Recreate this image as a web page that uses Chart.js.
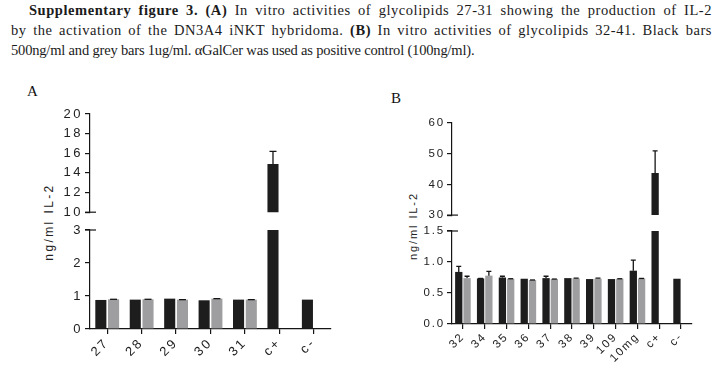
<!DOCTYPE html>
<html><head><meta charset="utf-8">
<script src="https://cdn.jsdelivr.net/npm/chart.js@4.4.1/dist/chart.umd.min.js"></script>
<style>
html,body{margin:0;padding:0;background:#fff;width:718px;height:372px;overflow:hidden;}
body{position:relative;}
.cap{position:absolute;font-family:"Liberation Serif","Times New Roman",serif;font-size:14.5px;line-height:20px;color:#1b1b1b;}
.j{text-align:justify;text-align-last:justify;letter-spacing:0.55px;}
canvas{position:absolute;}
.ytitle{position:absolute;font-family:"Liberation Sans",Arial,sans-serif;transform:translate(-50%,-50%) rotate(-90deg);white-space:nowrap;color:#222;line-height:1;}
.panel{position:absolute;font-family:"Liberation Serif",serif;font-size:15px;line-height:15px;color:#111;}
</style></head><body>
<div class="cap j" style="top:0px;left:29px;width:683px;"><b>Supplementary figure 3. (A)</b> In vitro activities of glycolipids 27-31 showing the production of IL-2</div>
<div class="cap j" style="top:20px;left:11px;width:701px;">by the activation of the DN3A4 iNKT hybridoma. <b>(B)</b> In vitro activities of glycolipids 32-41. Black bars</div>
<div class="cap" style="top:40px;left:11px;white-space:nowrap;letter-spacing:-0.18px;">500ng/ml and grey bars 1ug/ml. αGalCer was used as positive control (100ng/ml).</div>
<div class="panel" style="left:27px;top:84px;">A</div>
<div class="panel" style="left:391px;top:91px;">B</div>
<div class="ytitle" style="left:49px;top:222px;font-size:12px;letter-spacing:2.4px;">ng/ml IL-2</div>
<div class="ytitle" style="left:413px;top:226px;font-size:11px;letter-spacing:1.9px;">ng/ml IL-2</div>
<script>
// ---- Panel A data ----
const labelsA = ['27', '28', '29', '30', '31', 'c+', 'c-'];
const blackA = [0.88, 0.89, 0.92, 0.87, 0.89, 14.9, 0.89];
const blackErrA = [null, null, null, null, null, 1.3, null];
const greyA = [0.90, 0.90, 0.89, 0.92, 0.89, null, null];
const greyErrA = [0, 0, 0, 0, 0, null, null];
const ticksAUpper = [10, 12, 14, 16, 18, 20];
const ticksALower = [0, 1, 2, 3];

// ---- Panel B data ----
const labelsB = ['32', '34', '35', '36', '37', '38', '39', '109', '10mg', 'c+', 'c-'];
const blackB = [0.84, 0.735, 0.75, 0.73, 0.74, 0.74, 0.725, 0.725, 0.86, 43.7, 0.73];
const blackErrB = [0.09, 0, 0.02, null, 0.03, null, null, null, 0.17, 7.2, null];
const greyB = [0.74, 0.78, 0.73, 0.71, 0.725, 0.735, 0.73, 0.73, 0.735, null, null];
const greyErrB = [0.03, 0.07, 0, 0, 0, 0.005, 0.01, 0, 0, null, null];
const ticksBUpper = [30, 40, 50, 60];
const ticksBLower = [0, 0.5, 1.0, 1.5];

const BLACK = '#1d1d1d', GREY = '#9e9ea0', AXIS = '#151515';

const spacingPlugin = {
  id: 'ls',
  beforeUpdate(chart, args, o) { chart.ctx.letterSpacing = o.spacing || '0px'; },
  beforeDraw(chart, args, o) { chart.ctx.letterSpacing = o.spacing || '0px'; }
};

const errorBars = {
  id: 'errorBars',
  afterDatasetsDraw(chart, args, o) {
    const ctx = chart.ctx, ys = chart.scales.y, a = chart.chartArea;
    ctx.save();
    ctx.beginPath();
    ctx.rect(a.left, a.top - 1, a.right - a.left, a.bottom - a.top + 1);
    ctx.clip();
    ctx.strokeStyle = AXIS;
    ctx.lineWidth = o.width;
    chart.data.datasets.forEach((ds, i) => {
      const meta = chart.getDatasetMeta(i);
      (ds.errors || []).forEach((e, j) => {
        const v = ds.data[j];
        if (e == null || v == null) return;
        const el = meta.data[j];
        const x = el.x;
        const yv = ys.getPixelForValue(v), yt = ys.getPixelForValue(v + e);
        ctx.beginPath();
        ctx.moveTo(x, yv); ctx.lineTo(x, yt);
        ctx.moveTo(x - o.cap / 2, yt); ctx.lineTo(x + o.cap / 2, yt);
        ctx.stroke();
      });
    });
    ctx.restore();
  }
};

const breakMark = {
  id: 'breakMark',
  afterDraw(chart, args, o) {
    if (!o.at) return;
    const ctx = chart.ctx, a = chart.chartArea;
    const y = o.at === 'bottom' ? a.bottom : a.top;
    ctx.save();
    ctx.strokeStyle = AXIS;
    ctx.lineWidth = 1.2;
    ctx.beginPath();
    ctx.moveTo(a.left - 5, y); ctx.lineTo(a.left + 6, y);
    ctx.stroke();
    ctx.restore();
  }
};

function segChart(p) {
  const yW = 70, padTop = 10, padRight = 12;
  const xH = p.showX ? 44 : 0;
  const padBottom = p.showX ? 0 : 8;
  const cw = yW + (p.right - p.left) + padRight;
  const ch = padTop + (p.bottom - p.top) + xH + padBottom;
  const canvas = document.createElement('canvas');
  canvas.width = cw; canvas.height = ch;
  canvas.style.left = (p.left - yW) + 'px';
  canvas.style.top = (p.top - padTop) + 'px';
  canvas.style.width = cw + 'px';
  canvas.style.height = ch + 'px';
  document.body.appendChild(canvas);
  const font = { family: '"Liberation Sans", Arial, sans-serif', size: p.fontSize };
  return new Chart(canvas, {
    type: 'bar',
    data: {
      labels: p.labels,
      datasets: [
        { data: p.black, errors: p.blackErr, backgroundColor: BLACK, borderWidth: 0,
          categoryPercentage: p.catPct, barPercentage: p.barPct },
        { data: p.grey, errors: p.greyErr, backgroundColor: GREY, borderWidth: 0,
          categoryPercentage: p.catPct, barPercentage: p.barPct }
      ]
    },
    options: {
      responsive: false,
      animation: false,
      events: [],
      layout: { padding: { top: padTop, right: padRight, bottom: padBottom, left: 0 } },
      plugins: {
        legend: { display: false },
        tooltip: { enabled: false },
        ls: { spacing: p.spacing },
        errorBars: { cap: p.cap, width: 1.3 },
        breakMark: { at: p.breakAt }
      },
      scales: {
        x: {
          display: p.showX,
          offset: true,
          afterFit: s => { s.height = xH; },
          grid: { display: true, drawOnChartArea: false, offset: false, tickLength: 5, color: AXIS, lineWidth: 1.2 },
          border: { display: true, color: AXIS, width: 1.2 },
          ticks: { autoSkip: false, maxRotation: 45, minRotation: 45, padding: 1, color: '#222', font: font }
        },
        y: {
          min: p.yTicks[0],
          max: p.yTicks[p.yTicks.length - 1],
          afterBuildTicks: s => { s.ticks = p.yTicks.map(v => ({ value: v })); },
          afterFit: s => { s.width = yW; },
          grid: { drawOnChartArea: false, tickLength: 5, color: AXIS, lineWidth: 1.2 },
          border: { display: true, color: AXIS, width: 1.2 },
          ticks: { padding: 2, color: '#222', font: font,
                   callback: v => p.decimals ? Number(v).toFixed(p.decimals) : String(v) }
        }
      }
    },
    plugins: [spacingPlugin, errorBars, breakMark]
  });
}

const commonA = { labels: labelsA, black: blackA, blackErr: blackErrA, grey: greyA, greyErr: greyErrA,
  left: 90, right: 331, fontSize: 13, spacing: '2.5px', catPct: 0.74, barPct: 0.87, cap: 7 };
segChart(Object.assign({}, commonA, { top: 114, bottom: 214, yTicks: ticksAUpper, showX: false, breakAt: 'bottom' }));
segChart(Object.assign({}, commonA, { top: 230, bottom: 329, yTicks: ticksALower, showX: true, breakAt: 'top' }));

const commonB = { labels: labelsB, black: blackB, blackErr: blackErrB, grey: greyB, greyErr: greyErrB,
  left: 452, right: 692, fontSize: 11.5, spacing: '1.8px', catPct: 0.76, barPct: 0.88, cap: 5 };
segChart(Object.assign({}, commonB, { top: 123, bottom: 216, yTicks: ticksBUpper, showX: false, breakAt: 'bottom' }));
segChart(Object.assign({}, commonB, { top: 231, bottom: 324, yTicks: ticksBLower, showX: true, breakAt: 'top', decimals: 1 }));
</script>
</body></html>
